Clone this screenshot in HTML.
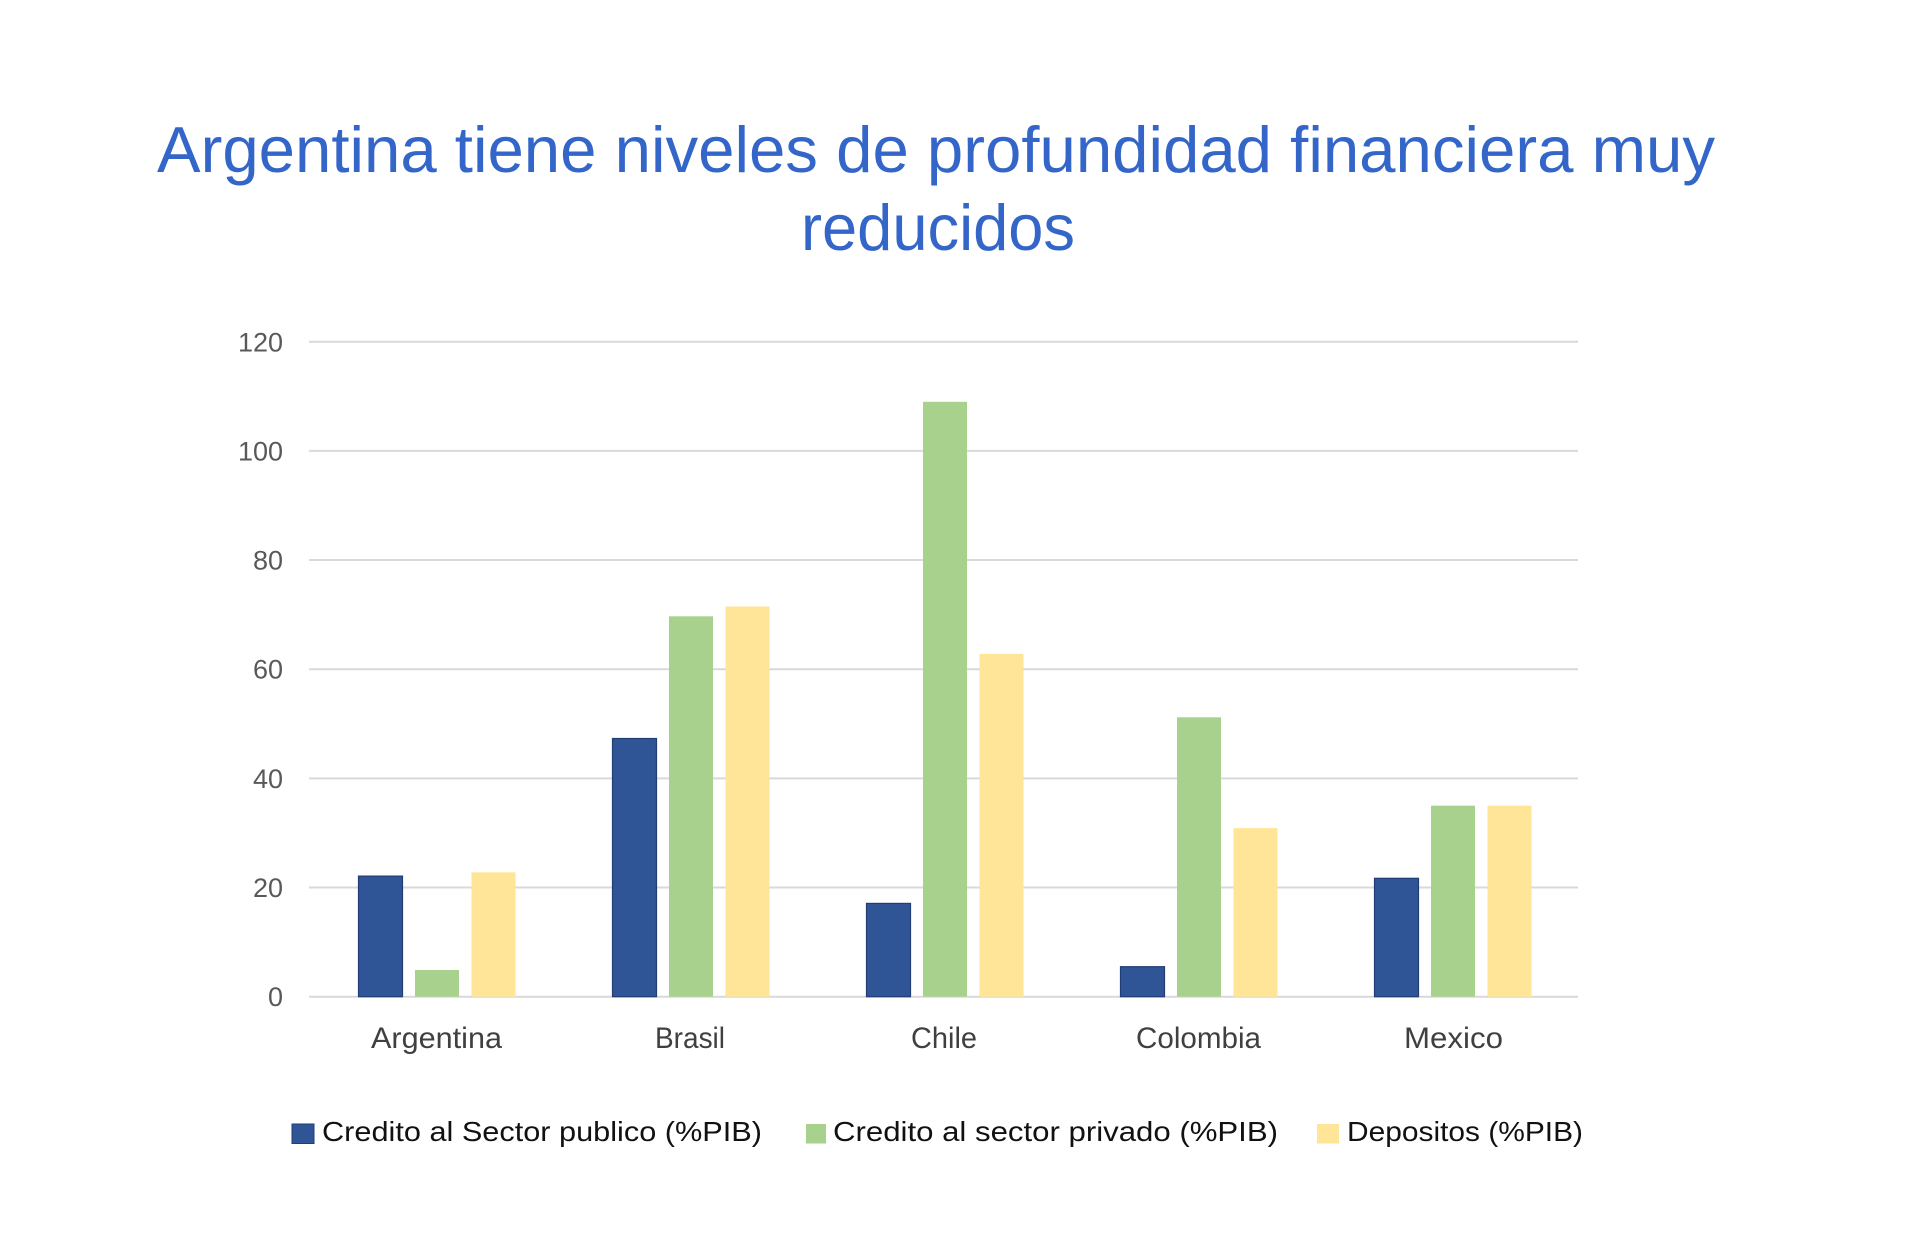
<!DOCTYPE html>
<html>
<head>
<meta charset="utf-8">
<style>
  html, body { margin: 0; padding: 0; background: #ffffff; }
  svg { display: block; }
  text { font-family: "Liberation Sans", Arial, sans-serif; }
</style>
</head>
<body>
<svg width="1920" height="1260" viewBox="0 0 1920 1260" xmlns="http://www.w3.org/2000/svg">
  <rect x="0" y="0" width="1920" height="1260" fill="#ffffff"/>

  <!-- Title -->
  <text x="157" y="172" font-size="65" fill="#3366c8" textLength="1558" lengthAdjust="spacingAndGlyphs">Argentina tiene niveles de profundidad financiera muy</text>
  <text x="801" y="250" font-size="65" fill="#3366c8" textLength="274" lengthAdjust="spacingAndGlyphs">reducidos</text>

  <!-- Gridlines -->
  <g stroke="#d9d9d9" stroke-width="2">
    <line x1="309" y1="341.7" x2="1578" y2="341.7"/>
    <line x1="309" y1="450.9" x2="1578" y2="450.9"/>
    <line x1="309" y1="560.0" x2="1578" y2="560.0"/>
    <line x1="309" y1="669.2" x2="1578" y2="669.2"/>
    <line x1="309" y1="778.4" x2="1578" y2="778.4"/>
    <line x1="309" y1="887.5" x2="1578" y2="887.5"/>
    <line x1="309" y1="996.7" x2="1578" y2="996.7"/>
  </g>

  <!-- Y axis labels -->
  <g font-size="27" fill="#595959" text-anchor="end">
    <text x="283" y="351.5">120</text>
    <text x="283" y="460.5">100</text>
    <text x="283" y="569.5">80</text>
    <text x="283" y="678.5">60</text>
    <text x="283" y="788">40</text>
    <text x="283" y="897">20</text>
    <text x="283" y="1006">0</text>
  </g>

  <!-- Bars: blue (Sector publico) -->
  <g fill="#2f5597" stroke="#203d75" stroke-width="1.2">
    <rect x="358.5" y="876.1" width="44" height="120.6"/>
    <rect x="612.5" y="738.5" width="44" height="258.2"/>
    <rect x="866.5" y="903.4" width="44" height="93.3"/>
    <rect x="1120.5" y="966.7" width="44" height="30"/>
    <rect x="1374.5" y="878.3" width="44" height="118.4"/>
  </g>
  <!-- Bars: green (sector privado) -->
  <g fill="#a9d18e">
    <rect x="415" y="970" width="44" height="26.7"/>
    <rect x="669" y="616.3" width="44" height="380.4"/>
    <rect x="923" y="401.8" width="44" height="594.9"/>
    <rect x="1177" y="717.3" width="44" height="279.4"/>
    <rect x="1431" y="805.7" width="44" height="191"/>
  </g>
  <!-- Bars: yellow (Depositos) -->
  <g fill="#ffe597">
    <rect x="471.5" y="872.3" width="44" height="124.4"/>
    <rect x="725.5" y="606.5" width="44" height="390.2"/>
    <rect x="979.5" y="653.9" width="44" height="342.8"/>
    <rect x="1233.5" y="828.1" width="44" height="168.6"/>
    <rect x="1487.5" y="805.7" width="44" height="191"/>
  </g>

  <!-- Category labels -->
  <g font-size="30" fill="#404040">
    <text x="371" y="1048" textLength="131" lengthAdjust="spacingAndGlyphs">Argentina</text>
    <text x="655" y="1048" textLength="70" lengthAdjust="spacingAndGlyphs">Brasil</text>
    <text x="911" y="1048" textLength="66" lengthAdjust="spacingAndGlyphs">Chile</text>
    <text x="1136" y="1048" textLength="125" lengthAdjust="spacingAndGlyphs">Colombia</text>
    <text x="1404" y="1048" textLength="99" lengthAdjust="spacingAndGlyphs">Mexico</text>
  </g>

  <!-- Legend -->
  <rect x="292" y="1124" width="22" height="19.5" fill="#2f5597" stroke="#203d75" stroke-width="1"/>
  <text x="322" y="1141" font-size="28" fill="#111111" textLength="440" lengthAdjust="spacingAndGlyphs">Credito al Sector publico (%PIB)</text>

  <rect x="806" y="1124" width="20" height="19.5" fill="#a9d18e"/>
  <text x="833" y="1141" font-size="28" fill="#111111" textLength="445" lengthAdjust="spacingAndGlyphs">Credito al sector privado (%PIB)</text>

  <rect x="1317" y="1124" width="22" height="19.5" fill="#ffe597"/>
  <text x="1347" y="1141" font-size="28" fill="#111111" textLength="236" lengthAdjust="spacingAndGlyphs">Depositos (%PIB)</text>
</svg>
</body>
</html>
